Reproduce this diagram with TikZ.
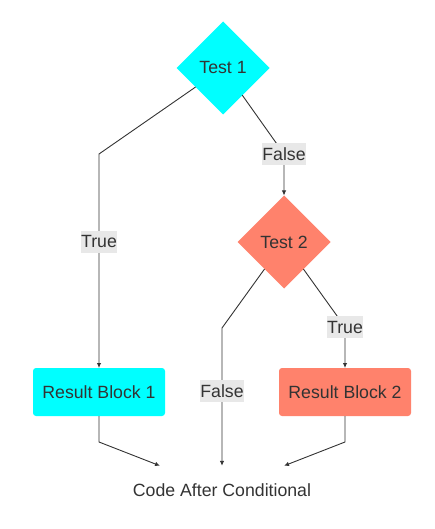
\documentclass[tikz,border=0pt]{standalone}
\usepackage{fontspec}
\setmainfont{Liberation Sans}
\usetikzlibrary{shapes.geometric,arrows.meta}
\definecolor{ink}{HTML}{333333}
\definecolor{testcyan}{HTML}{00FFFF}
\definecolor{testcoral}{HTML}{FF826C}
\definecolor{lblgray}{HTML}{E8E8E8}
\begin{document}
\begin{tikzpicture}[x=1pt,y=-1pt,>={Latex[length=5pt,width=4.5pt]},
	every node/.style={font=\fontsize{17.7}{21}\selectfont,text=ink},
	test/.style={diamond,aspect=1,minimum width=93pt,minimum height=93pt,inner sep=0pt,outer sep=0pt},
	result/.style={rectangle,rounded corners=3pt,minimum width=132pt,minimum height=48pt,inner sep=0pt,outer sep=0pt},
	lbl/.style={fill=lblgray,inner sep=0pt,minimum height=22pt},
	flow/.style={draw=ink,line width=0.9pt}]
	\useasboundingbox (0,0) rectangle (435,529);
	% decision and result nodes
	\node[test,fill=testcyan] (t1) at (223,68) {Test 1};
	\node[test,fill=testcoral] (t2) at (284,242) {Test 2};
	\node[result,fill=testcyan] (rb1) at (99,392) {Result Block 1};
	\node[result,fill=testcoral] (rb2) at (345,392) {Result Block 2};
	\node[minimum height=48pt,inner sep=0pt] (code) at (222,490) {Code After Conditional};
	% bend points
	\coordinate (k1) at (99,154);
	\coordinate (k2) at (284,154);
	\coordinate (k3) at (222,328);
	\coordinate (k4) at (345,327);
	\coordinate (k5) at (99,442);
	\coordinate (k6) at (345,442);
	% connectors
	\draw[flow,->] (t1) -- (k1) -- node[lbl,pos=0.41] {True} (rb1);
	\draw[flow,->] (t1) -- (k2) node[lbl] {False} -- (t2);
	\draw[flow,->] (t2) -- (k4) node[lbl] {True} -- (rb2);
	\draw[flow,->] (t2) -- (k3) -- node[lbl,pos=0.46] {False} (code);
	\draw[flow,->] (rb1) -- (k5) -- (code);
	\draw[flow,->] (rb2) -- (k6) -- (code);
\end{tikzpicture}
\end{document}
